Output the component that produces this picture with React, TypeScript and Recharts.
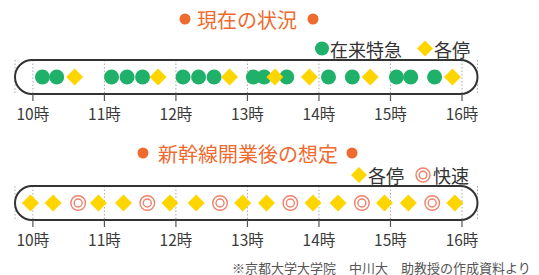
import React from 'react';
import { ScatterChart, Scatter, XAxis, YAxis, CartesianGrid, ReferenceArea } from 'recharts';

// Hour ticks (minutes after 10:00) and labels
const hourTicks = [0, 60, 120, 180, 240, 300, 360];
const hourLabels = ['10時', '11時', '12時', '13時', '14時', '15時', '16時'];

// Departure times in minutes after 10:00
const currentExpress = [8, 20, 66, 79, 92, 126, 139, 152, 185, 194, 213, 248, 268, 305, 317, 337];
const currentLocal = [35, 105, 165, 203, 232, 283, 352];
const futureLocal = [-2, 17, 55, 76, 115, 137, 176, 196, 235, 256, 295, 315, 354];
const futureRapid = [38, 96, 157, 216, 276, 335];
const trackRange = [-15, 373];

const titles = ['現在の状況', '新幹線開業後の想定'];
const legendTop = ['在来特急', '各停'];
const legendBottom = ['各停', '快速'];
const sourceText = '※京都大学大学院　中川大　助教授の作成資料より';

const GREEN = '#1FB06A';
const YELLOW = '#FFD500';
const ORANGE = '#EF6A2E';
const SALMON = '#F0806A';
const FONT = '"Noto Sans CJK JP", "Noto Sans", sans-serif';

const toPts = (arr: number[]) => arr.map((x) => ({ x, y: 0.5 }));

const CircleMark = (p: any) => <circle cx={p.cx} cy={p.cy} r={7.5} fill={GREEN} />;
const diamondPts = (cx: number, cy: number, s: number) =>
  `${cx},${cy - s} ${cx + s},${cy} ${cx},${cy + s} ${cx - s},${cy}`;
const DiamondMark = (p: any) => <polygon points={diamondPts(p.cx, p.cy, 8.5)} fill={YELLOW} />;
const RapidMark = (p: any) => (
  <g>
    <circle cx={p.cx} cy={p.cy} r={7.3} fill="#fff" stroke={SALMON} strokeWidth={1.4} />
    <circle cx={p.cx} cy={p.cy} r={4} fill="none" stroke={SALMON} strokeWidth={1.4} />
  </g>
);

const TrackShape = (p: any) => (
  <rect
    x={p.x}
    y={p.y}
    width={p.width}
    height={p.height}
    rx={p.height / 2}
    ry={p.height / 2}
    fill="none"
    stroke="#333"
    strokeWidth={2}
  />
);

const tickFmt = (v: number) => hourLabels[hourTicks.indexOf(v)] ?? '';

function Row(props: { height: number; top: number; axisHeight: number; children: any }) {
  return (
    <ScatterChart
      width={539}
      height={props.height}
      margin={{ top: props.top, right: 61.5, bottom: 0, left: 15 }}
    >
      <CartesianGrid horizontal={false} vertical stroke="#aaa" strokeDasharray="1.5 2" />
      <ReferenceArea x1={trackRange[0]} x2={trackRange[1]} y1={0} y2={1} ifOverflow="visible" shape={TrackShape} />
      <XAxis
        dataKey="x"
        type="number"
        domain={trackRange}
        ticks={hourTicks}
        tickFormatter={tickFmt}
        axisLine={false}
        tickLine={{ stroke: '#555', strokeWidth: 1.2 }}
        tickSize={7}
        tickMargin={8}
        height={props.axisHeight}
        interval={0}
        tick={{ fontSize: 15.5, fill: '#3a3a3a', fontFamily: FONT }}
      />
      <YAxis dataKey="y" type="number" domain={[0, 1]} hide />
      {props.children}
    </ScatterChart>
  );
}

export default function App() {
  return (
    <div style={{ position: 'absolute', left: 0, top: 0, width: 539, height: 275, background: '#fff' }}>
      <div style={{ position: 'absolute', left: 0, top: 0 }}>
        <Row height={130} top={60} axisHeight={36}>
          <Scatter data={toPts(currentExpress)} shape={CircleMark} isAnimationActive={false} />
          <Scatter data={toPts(currentLocal)} shape={DiamondMark} isAnimationActive={false} />
        </Row>
      </div>
      <div style={{ position: 'absolute', left: 0, top: 130 }}>
        <Row height={145} top={56} axisHeight={55}>
          <Scatter data={toPts(futureLocal)} shape={DiamondMark} isAnimationActive={false} />
          <Scatter data={toPts(futureRapid)} shape={RapidMark} isAnimationActive={false} />
        </Row>
      </div>
      <svg
        width={539}
        height={275}
        style={{ position: 'absolute', left: 0, top: 0, pointerEvents: 'none' }}
        fontFamily={FONT}
      >
        {/* Title 1 */}
        <circle cx={185} cy={19} r={5.5} fill={ORANGE} />
        <text x={197} y={19} fontSize={20} fill={ORANGE} dominantBaseline="central">
          {titles[0]}
        </text>
        <circle cx={313} cy={19} r={5.5} fill={ORANGE} />
        {/* Legend 1 */}
        <circle cx={322} cy={48.5} r={7} fill={GREEN} />
        <text x={330} y={48.5} fontSize={18} fill="#333" dominantBaseline="central">
          {legendTop[0]}
        </text>
        <polygon points={diamondPts(425, 48.5, 8)} fill={YELLOW} />
        <text x={434} y={48.5} fontSize={18} fill="#333" dominantBaseline="central">
          {legendTop[1]}
        </text>
        {/* Title 2 */}
        <circle cx={143} cy={153} r={5.5} fill={ORANGE} />
        <text x={158} y={153} fontSize={20} fill={ORANGE} dominantBaseline="central">
          {titles[1]}
        </text>
        <circle cx={352} cy={153} r={5.5} fill={ORANGE} />
        {/* Legend 2 */}
        <polygon points={diamondPts(359, 175, 8)} fill={YELLOW} />
        <text x={368} y={175} fontSize={18} fill="#333" dominantBaseline="central">
          {legendBottom[0]}
        </text>
        <g>
          <circle cx={423} cy={175} r={7} fill="#fff" stroke={SALMON} strokeWidth={1.4} />
          <circle cx={423} cy={175} r={3.8} fill="none" stroke={SALMON} strokeWidth={1.4} />
        </g>
        <text x={433} y={175} fontSize={18} fill="#333" dominantBaseline="central">
          {legendBottom[1]}
        </text>
        {/* Source */}
        <text x={232} y={267} fontSize={13} fill="#555" dominantBaseline="central">
          {sourceText}
        </text>
      </svg>
    </div>
  );
}
